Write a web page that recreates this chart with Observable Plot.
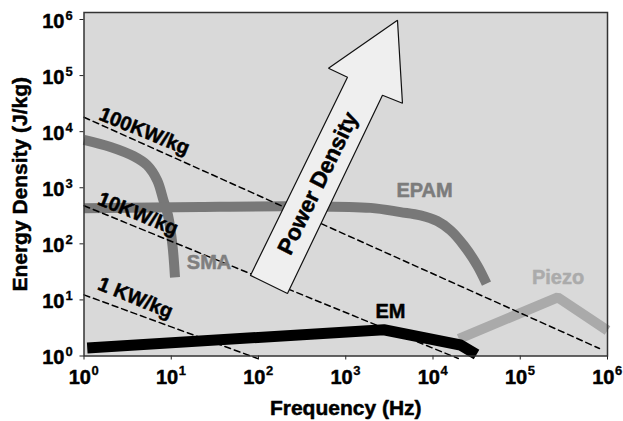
<!DOCTYPE html>
<html>
<head>
<meta charset="utf-8">
<script src="https://cdn.jsdelivr.net/npm/d3@7"></script>
<script src="https://cdn.jsdelivr.net/npm/@observablehq/plot@0.6"></script>
<style>
  html, body { margin: 0; padding: 0; background: #fff; }
</style>
</head>
<body>
<div id="chart"></div>
<script>
// ---- tick values ----
const xTicks = [1, 10, 100, 1e3, 1e4, 1e5, 1e6];
const yTicks = [1, 10, 100, 1e3, 1e4, 1e5, 1e6];

// ---- actuator curves (frequency Hz, energy density J/kg) ----
const smaFreq   = [1, 2.014, 3.724, 5.297, 6.902, 8.147, 9.183, 10.33, 11.04];
const smaEnergy = [7161, 5333, 3639, 2512, 1355, 595.7, 322.1, 93.76, 25.18];

const epamFreq   = [1, 21.6, 302.7, 1923, 4236, 7194, 11170, 15890, 22540, 32140, 41020];
const epamEnergy = [429.5, 456.0, 465.6, 437.5, 368.1, 322.1, 254.7, 173.8, 93.8, 41.2, 19.45];

const piezoFreq   = [19770, 269200, 1e6];
const piezoEnergy = [2.028, 11.07, 2.851];

const emFreq   = [1.089, 2729, 20650, 31550];
const emEnergy = [1.390, 2.938, 1.570, 1.064];

// ---- constant power-density guide lines ----
const p100Freq = [1, 809000];   const p100Energy = [18070, 1.361];
const p10Freq  = [1, 19500];    const p10Energy  = [478.6, 0.9016];
const p1Freq   = [1, 97.7];     const p1Energy   = [12.30, 0.9016];

// ---- "Power Density" block arrow outline ----
const arrowFreq   = [80.9, 1047, 634, 3917, 4467, 2636, 214.8, 80.9];
const arrowEnergy = [27.35, 93540, 135200, 972800, 32060, 44570, 13.03, 27.35];

// ---- labels ----
const guideLabels = ["100KW/kg", "10KW/kg", "1 KW/kg"];
const guideLabelFreq = [4.93, 4.16, 3.89];
const guideLabelEnergy = [10160, 342, 10.84];

const seriesLabels = ["SMA", "EPAM", "Piezo", "EM"];
const seriesLabelFreq = [27.1, 8000, 271000, 3260];
const seriesLabelEnergy = [45.7, 881, 25.2, 6.22];

const arrowLabel = "Power Density";
const arrowLabelFreq = 481;
const arrowLabelEnergy = 1200;

const xTitle = "Frequency (Hz)";
const yTitle = "Energy Density (J/kg)";

// ---- build tables ----
const zip = (fs, es) => fs.map((f, i) => ({f, e: es[i]}));
const sma = zip(smaFreq, smaEnergy);
const epam = zip(epamFreq, epamEnergy);
const piezo = zip(piezoFreq, piezoEnergy);
const em = zip(emFreq, emEnergy);
const p100 = zip(p100Freq, p100Energy);
const p10 = zip(p10Freq, p10Energy);
const p1 = zip(p1Freq, p1Energy);
const arrow = zip(arrowFreq, arrowEnergy);
const gLabels = guideLabels.map((t, i) => ({t, f: guideLabelFreq[i], e: guideLabelEnergy[i]}));
const sLabels = seriesLabels.map((t, i) => ({t, f: seriesLabelFreq[i], e: seriesLabelEnergy[i]}));

const seriesColor = {SMA: "#7f7f7f", EPAM: "#7c7c7c", Piezo: "#ababab", EM: "#000000"};
const heavy = {fontWeight: "bold", strokeWidth: 0.5, strokeLinejoin: "round"};

const chart = Plot.plot({
  width: 623,
  height: 421,
  marginLeft: 83.5,
  marginRight: 16,
  marginTop: 12,
  marginBottom: 65.5,
  style: {fontFamily: "'Liberation Sans', Arial, sans-serif", background: "#fff", overflow: "visible"},
  x: {type: "log", domain: [1, 1e6], axis: null},
  y: {type: "log", domain: [1, 1e6], axis: null, insetTop: 7},
  marks: [
    Plot.frame({fill: "#d9d9d9", stroke: null}),
    Plot.axisX(xTicks, {tickFormat: () => "", tickSize: 4, label: null, stroke: "#222"}),
    Plot.axisY(yTicks, {tickFormat: () => "", tickSize: 4, label: null, stroke: "#222"}),

    Plot.line(sma, {x: "f", y: "e", stroke: "#787878", strokeWidth: 10, curve: "catmull-rom", strokeLinecap: "butt"}),
    Plot.line(epam, {x: "f", y: "e", stroke: "#787878", strokeWidth: 10, curve: "catmull-rom", strokeLinecap: "butt"}),
    Plot.line(piezo, {x: "f", y: "e", stroke: "#aaaaaa", strokeWidth: 10, curve: "linear", strokeLinecap: "butt", strokeLinejoin: "miter"}),
    Plot.line(em, {x: "f", y: "e", stroke: "#000", strokeWidth: 11, curve: "linear", strokeLinecap: "butt", strokeLinejoin: "round"}),

    Plot.line(p100, {x: "f", y: "e", stroke: "#000", strokeWidth: 1.5, strokeDasharray: "6,4"}),
    Plot.line(p10, {x: "f", y: "e", stroke: "#000", strokeWidth: 1.5, strokeDasharray: "6,4"}),
    Plot.line(p1, {x: "f", y: "e", stroke: "#000", strokeWidth: 1.5, strokeDasharray: "6,4"}),

    Plot.line(arrow, {x: "f", y: "e", fill: "#efefef", stroke: "#111", strokeWidth: 1.2, curve: "linear", strokeLinejoin: "miter"}),

    Plot.frame({stroke: "#333", strokeWidth: 1.5}),

    Plot.text(gLabels, {x: "f", y: "e", text: "t", rotate: 22, fontSize: 20, ...heavy, fill: "#000", stroke: "#000", textAnchor: "middle", lineAnchor: "middle"}),
    Plot.text(sLabels, {x: "f", y: "e", text: "t", fontSize: 20, ...heavy, fill: d => seriesColor[d.t], stroke: d => seriesColor[d.t], textAnchor: "middle", lineAnchor: "middle"}),
    Plot.text([arrowLabel], {x: () => arrowLabelFreq, y: () => arrowLabelEnergy, text: d => d, rotate: -64, fontSize: 22.5, ...heavy, fill: "#000", stroke: "#000", textAnchor: "middle", lineAnchor: "middle"}),

    // x tick labels: 10 with superscript exponent
    Plot.text(xTicks, {x: d => d, frameAnchor: "bottom", text: () => "10", textAnchor: "end", lineAnchor: "bottom", dx: 7, dy: 27.5, fontSize: 20, ...heavy, fill: "#000", stroke: "#000"}),
    Plot.text(xTicks, {x: d => d, frameAnchor: "bottom", text: d => String(Math.round(Math.log10(d))), textAnchor: "start", lineAnchor: "bottom", dx: 7.5, dy: 18.5, fontSize: 13, ...heavy, strokeWidth: 0.3, fill: "#000", stroke: "#000"}),
    // y tick labels
    Plot.text(yTicks, {y: d => d, frameAnchor: "left", text: () => "10", textAnchor: "end", lineAnchor: "bottom", dx: -19.5, dy: 8, fontSize: 20, ...heavy, fill: "#000", stroke: "#000"}),
    Plot.text(yTicks, {y: d => d, frameAnchor: "left", text: d => String(Math.round(Math.log10(d))), textAnchor: "start", lineAnchor: "bottom", dx: -18.5, dy: 0, fontSize: 13, ...heavy, strokeWidth: 0.3, fill: "#000", stroke: "#000"}),

    // axis titles
    Plot.text([xTitle], {frameAnchor: "bottom", text: d => d, textAnchor: "middle", lineAnchor: "bottom", dy: 58.5, fontSize: 21, ...heavy, fill: "#000", stroke: "#000"}),
    Plot.text([yTitle], {frameAnchor: "left", text: d => d, textAnchor: "middle", lineAnchor: "bottom", rotate: -90, dx: -57.5, fontSize: 21, ...heavy, fill: "#000", stroke: "#000"})
  ]
});
document.getElementById("chart").appendChild(chart);
</script>
</body>
</html>
